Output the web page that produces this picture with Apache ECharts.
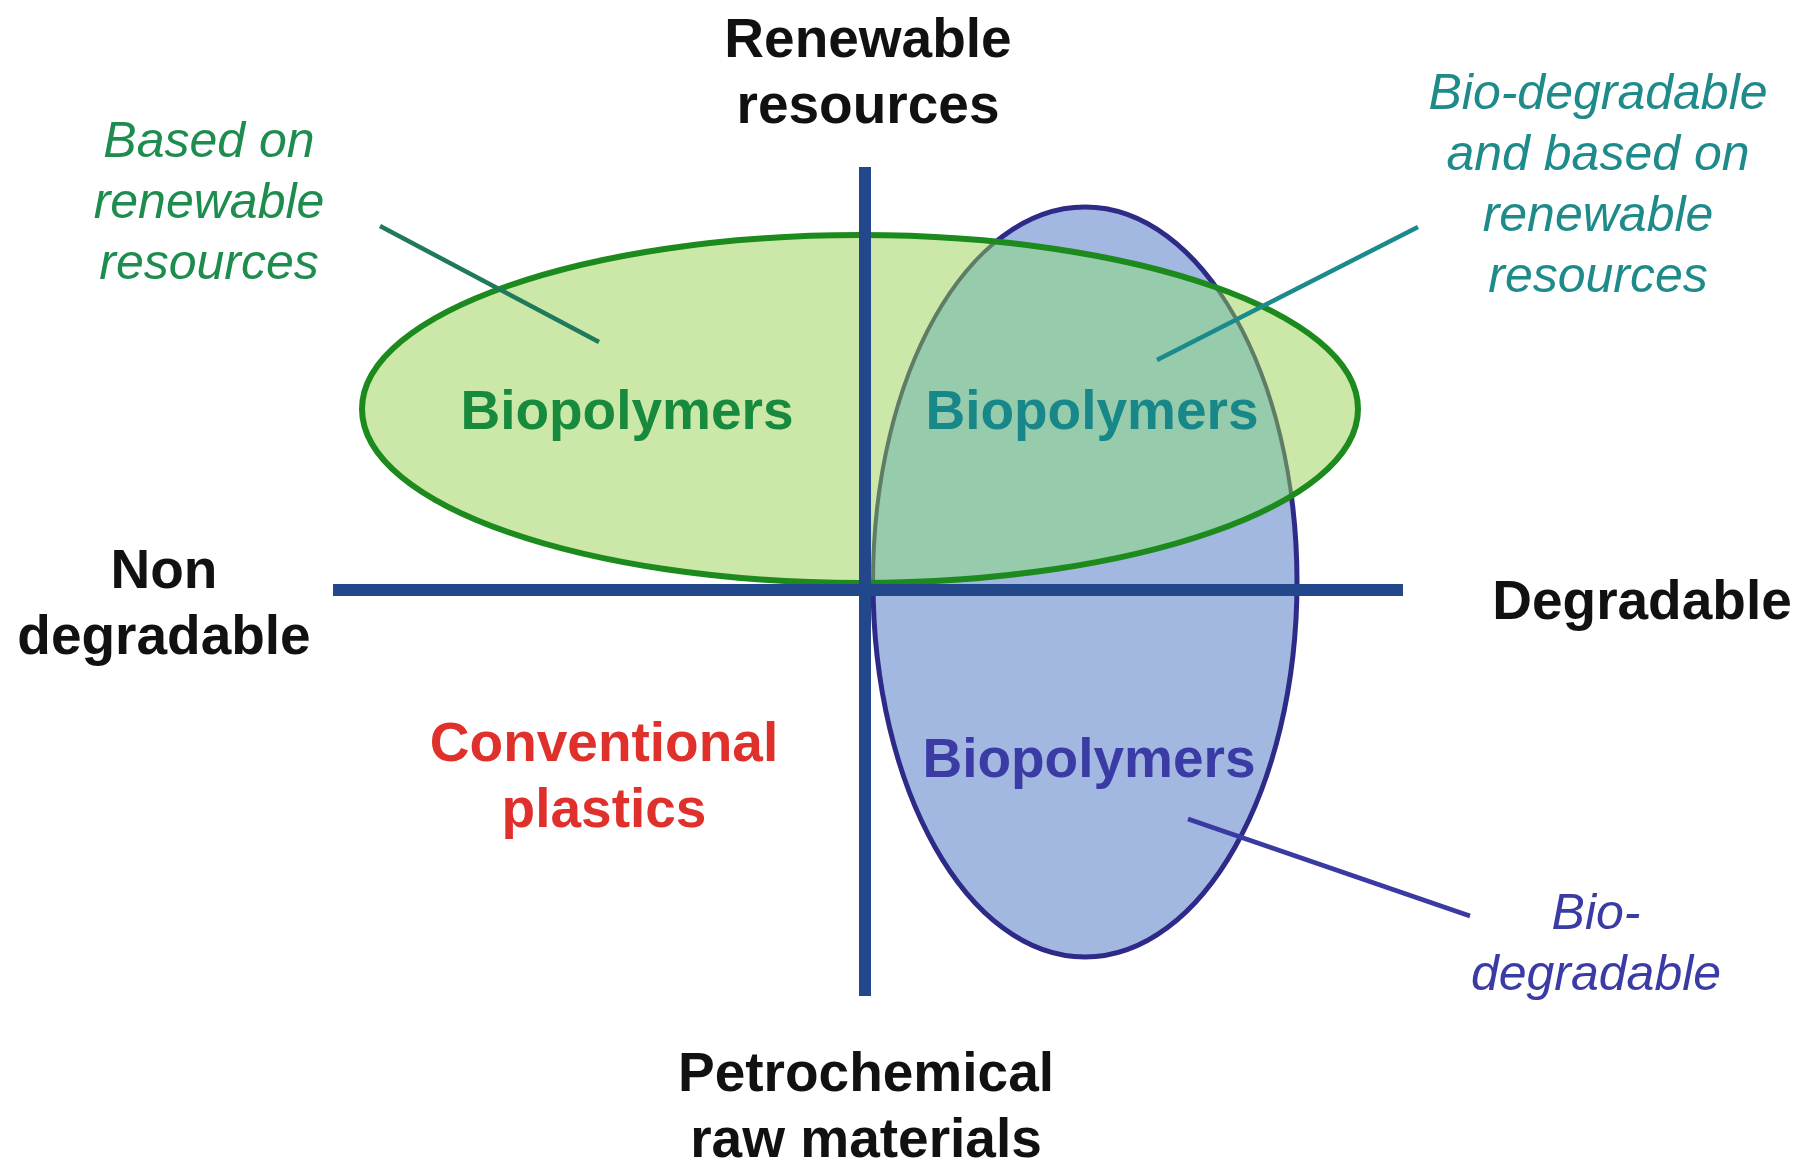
<!DOCTYPE html>
<html>
<head>
<meta charset="utf-8">
<script src="https://cdn.jsdelivr.net/npm/echarts@6/dist/echarts.min.js"></script>
<style>
html,body{margin:0;padding:0;background:#fff;}
#chart{width:1803px;height:1163px;}
</style>
</head>
<body>
<div id="chart"></div>
<script>
// Diagram coordinate space: origin at the crossing of the two classification axes, y upward.
const quadrantAxes = [[-532, 0, 538, 0], [0, 423, 0, -406]];           // [x1, y1, x2, y2]
const ellipseBlue = [220, 8, 212, 375];                                 // [cx, cy, rx, ry]  biodegradable
const ellipseGreen = [-5, 181, 498, 174];                               // [cx, cy, rx, ry]  renewable
const leaderLines = [[-485, 364, -266, 248], [553, 363, 292, 230], [323, -229, 605, -326]];
const axisLabels = ['Renewable\nresources', 'Non\ndegradable', 'Degradable', 'Petrochemical\nraw materials'];
const axisLabelPoints = [[3, 515], [-701, -16], [777, -14], [1, -519]];
const regionLabels = ['Biopolymers', 'Biopolymers', 'Biopolymers', 'Conventional\nplastics'];
const regionLabelPoints = [[-238, 176], [227, 176], [224, -172], [-261, -189]];
const noteLabels = ['Based on\nrenewable\nresources', 'Bio-degradable\nand based on\nrenewable\nresources', 'Bio-\ndegradable'];
const noteLabelPoints = [[-656, 386], [733, 403], [731, -356]];

// styles
const leaderColors = ['#1f7a5c', '#1a8a8c', '#3a3aa2'];
const regionColors = ['#178a3e', '#178789', '#3b3ba5', '#e0302c'];
const noteColors = ['#1e8c4e', '#1e8a8a', '#3b3ba5'];
const FONT = '"Liberation Sans", Arial, Helvetica, sans-serif';

const chart = echarts.init(document.getElementById('chart'));

function ellShape(api, e) {
  const c = api.coord([e[0], e[1]]);
  const s = api.size([e[2] * 2, e[3] * 2], [e[0], e[1]]);
  return { cx: c[0], cy: c[1], rx: s[0] / 2, ry: s[1] / 2 };
}

function textSeries(name, texts, points, styleFn) {
  return {
    type: 'custom', name: name, silent: true,
    data: points.map((p, i) => [p[0], p[1], i]),
    encode: { x: 0, y: 1 },
    renderItem: function (params, api) {
      const i = api.value(2);
      const c = api.coord([api.value(0), api.value(1)]);
      const st = styleFn(i);
      return {
        type: 'text', x: c[0], y: c[1],
        style: Object.assign({
          text: texts[i], align: 'center', verticalAlign: 'middle', fontFamily: FONT
        }, st)
      };
    }
  };
}

function segSeries(name, segs, colorFn, width) {
  return {
    type: 'custom', name: name, silent: true,
    data: segs.map((s, i) => [s[0], s[1], s[2], s[3], i]),
    encode: { x: [0, 2], y: [1, 3] },
    renderItem: function (params, api) {
      const a = api.coord([api.value(0), api.value(1)]);
      const b = api.coord([api.value(2), api.value(3)]);
      return {
        type: 'line',
        shape: { x1: a[0], y1: a[1], x2: b[0], y2: b[1] },
        style: { stroke: colorFn(api.value(4)), lineWidth: width, lineCap: 'butt' }
      };
    }
  };
}

const option = {
  animation: false,
  backgroundColor: '#ffffff',
  grid: { left: 0, right: 0, top: 0, bottom: 0 },
  xAxis: { type: 'value', min: -865, max: 938, show: false },
  yAxis: { type: 'value', min: -573, max: 590, show: false },
  series: [
    {
      type: 'custom', name: 'biodegradable', silent: true,
      data: [ellipseBlue],
      encode: { x: 0, y: 1 },
      renderItem: function (params, api) {
        const e = [api.value(0), api.value(1), api.value(2), api.value(3)];
        return {
          type: 'ellipse', shape: ellShape(api, e),
          style: { fill: '#a3b8e0', stroke: '#2e2a88', lineWidth: 5 }
        };
      }
    },
    {
      type: 'custom', name: 'renewable', silent: true,
      data: [ellipseGreen],
      encode: { x: 0, y: 1 },
      renderItem: function (params, api) {
        const g = ellShape(api, [api.value(0), api.value(1), api.value(2), api.value(3)]);
        const b = ellShape(api, ellipseBlue);
        return {
          type: 'group',
          children: [
            { type: 'ellipse', shape: g, style: { fill: '#cce8a8' } },
            { type: 'ellipse', shape: g, style: { fill: '#96cbac' },
              clipPath: { type: 'ellipse', shape: b } },
            { type: 'ellipse', shape: b, style: { fill: null, stroke: '#5f7d66', lineWidth: 4 },
              clipPath: { type: 'ellipse', shape: g } },
            { type: 'ellipse', shape: g, style: { fill: null, stroke: '#1c8a1c', lineWidth: 6 } }
          ]
        };
      }
    },
    segSeries('axes', quadrantAxes, () => '#22478a', 12),
    segSeries('leaders', leaderLines, i => leaderColors[i], 4.5),
    textSeries('axisLabels', axisLabels, axisLabelPoints, () => ({
      fill: '#111111', fontSize: 55, fontWeight: 'bold', lineHeight: 66
    })),
    textSeries('regionLabels', regionLabels, regionLabelPoints, i => ({
      fill: regionColors[i], fontSize: 55, fontWeight: 'bold', lineHeight: 66
    })),
    textSeries('noteLabels', noteLabels, noteLabelPoints, i => ({
      fill: noteColors[i], fontSize: 50, fontStyle: 'italic', lineHeight: 61
    }))
  ]
};
chart.setOption(option);
</script>
</body>
</html>
